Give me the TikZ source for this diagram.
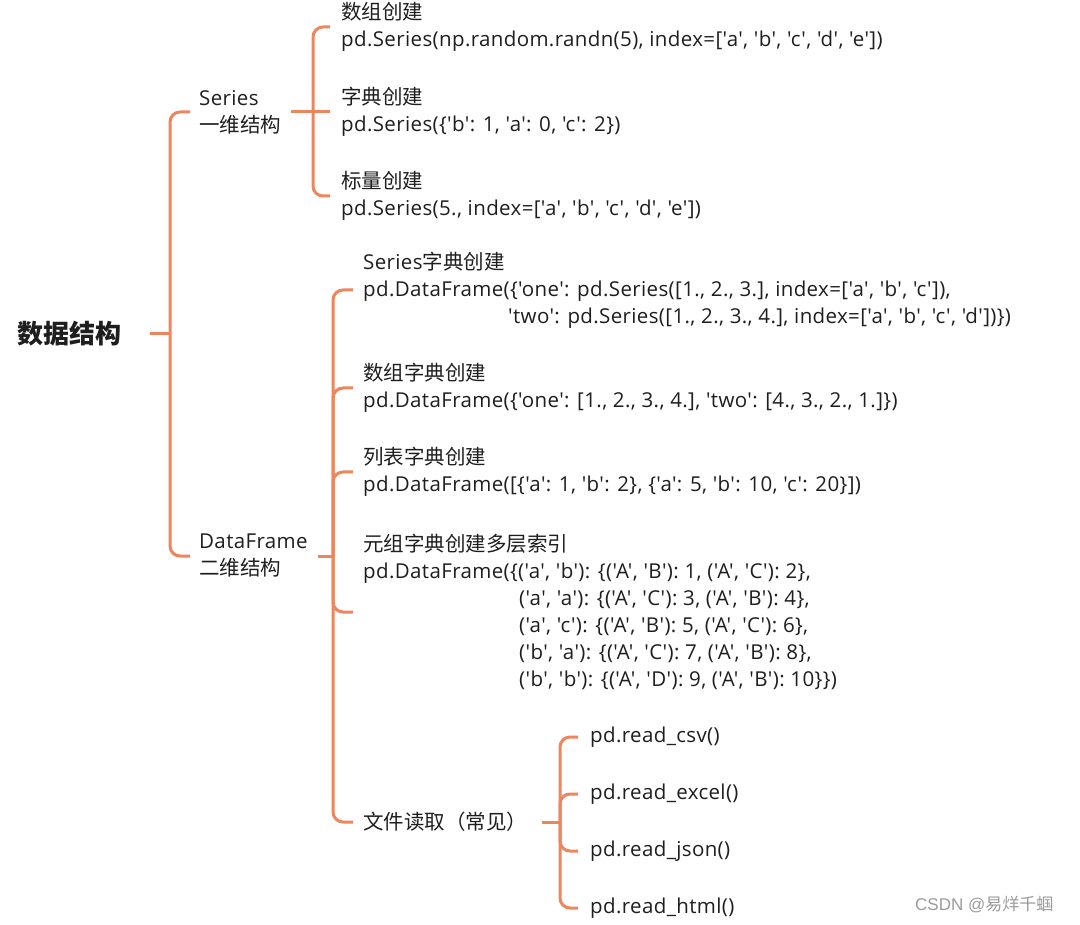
\documentclass[tikz,border=0pt]{standalone}
\usepackage{fontspec}
\newfontfamily\lat{Open Sans}[LetterSpace=1.8]
\newfontfamily\cjk{Noto Sans CJK SC}
\newfontfamily\wm{Liberation Sans}
\definecolor{brc}{HTML}{EE865D}
\definecolor{txt}{HTML}{1E1E1E}
\definecolor{wmc}{HTML}{9A9A9A}
\begin{document}
\begin{tikzpicture}[x=1pt,y=-1pt,
  every node/.style={inner sep=0pt, anchor=west, align=left, text=txt, font=\lat\fontsize{20.5}{27}\selectfont},
  br/.style={draw=brc, line width=3pt, rounded corners=10pt},
  rootnode/.style={font=\cjk\bfseries\fontsize{26}{30}\selectfont}]
\useasboundingbox (0,0) rectangle (1080,925);

% root
\node[rootnode] (root) at (17,334) {数据结构};
% level 1
\node (ser) at (199,112) {Series\\{\cjk 一维结构}};
\node (df) at (199,556) {DataFrame\\{\cjk 二维结构}};
% Series children
\node (s1) at (341,27) {{\cjk 数组创建}\\pd.Series(np.random.randn(5), index=['a', 'b', 'c', 'd', 'e'])};
\node (s2) at (341,112) {{\cjk 字典创建}\\pd.Series(\{'b': 1, 'a': 0, 'c': 2\})};
\node (s3) at (341,196) {{\cjk 标量创建}\\pd.Series(5., index=['a', 'b', 'c', 'd', 'e'])};
% DataFrame children
\node (d1) at (363,290) {Series{\cjk 字典创建}\\pd.DataFrame(\{'one': pd.Series([1., 2., 3.], index=['a', 'b', 'c']),\\\hspace*{145pt}'two': pd.Series([1., 2., 3., 4.], index=['a', 'b', 'c', 'd'])\})};
\node (d2) at (363,388) {{\cjk 数组字典创建}\\pd.DataFrame(\{'one': [1., 2., 3., 4.], 'two': [4., 3., 2., 1.]\})};
\node (d3) at (363,472) {{\cjk 列表字典创建}\\pd.DataFrame([\{'a': 1, 'b': 2\}, \{'a': 5, 'b': 10, 'c': 20\}])};
\node (d4) at (363,612) {{\cjk 元组字典创建多层索引}\\pd.DataFrame(\{('a', 'b'): \{('A', 'B'): 1, ('A', 'C'): 2\},\\
\hspace*{156pt}('a', 'a'): \{('A', 'C'): 3, ('A', 'B'): 4\},\\
\hspace*{156pt}('a', 'c'): \{('A', 'B'): 5, ('A', 'C'): 6\},\\
\hspace*{156pt}('b', 'a'): \{('A', 'C'): 7, ('A', 'B'): 8\},\\
\hspace*{156pt}('b', 'b'): \{('A', 'D'): 9, ('A', 'B'): 10\}\})};
\node (d5) at (363,822) {{\cjk 文件读取（常见）}};
% file children
\node (f1) at (590,737) {pd.read\_csv()};
\node (f2) at (590,794) {pd.read\_excel()};
\node (f3) at (590,851) {pd.read\_json()};
\node (f4) at (590,908) {pd.read\_html()};

% buses
\coordinate (b0) at (170,334);
\coordinate (b1) at (313,112);
\coordinate (b2) at (333,556);
\coordinate (b3) at (560,822);

\draw[br] ([xshift=29pt]root.east) -- (b0);
\draw[br] (b0) |- ([xshift=-9pt]ser.west);
\draw[br] (b0) |- ([xshift=-9pt]df.west);

\draw[br] ([xshift=10pt]ser.east) -- (b1);
\draw[br] (b1) |- ([xshift=-11pt]s1.west);
\draw[br] (b1) -- ([xshift=-11pt]s2.west);
\draw[br] (b1) |- ([xshift=-11pt]s3.west);

\draw[br] ([xshift=10pt]df.east) -- (b2);
\foreach \c in {d1,d2,d3,d4,d5}{\draw[br] (b2) |- ([xshift=-10pt]\c.west);}

\draw[br] ([xshift=15pt]d5.east) -- (b3);
\foreach \c in {f1,f2,f3,f4}{\draw[br] (b3) |- ([xshift=-12pt]\c.west);}

% watermark
\node[text=wmc, font=\wm\fontsize{17}{20}\selectfont] (wm) at (915,905) {CSDN @{\cjk 易烊千蝈}};
\end{tikzpicture}
\end{document}
